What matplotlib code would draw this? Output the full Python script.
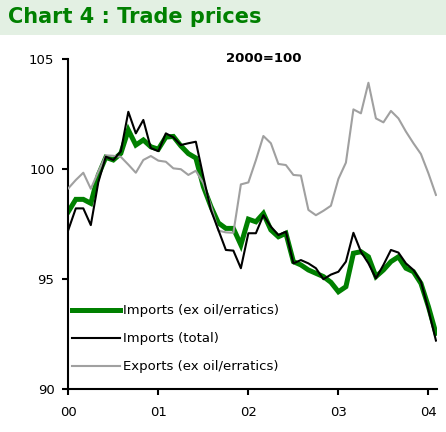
import matplotlib
matplotlib.use("Agg")
import matplotlib.pyplot as plt
import numpy as np

# Monthly data, Jan 2000 .. Feb 2004 (2000 = 100)
imports_ex = [98.06, 98.62, 98.62, 98.44, 99.73, 100.53, 100.41, 100.71, 101.77, 101.09,
              101.32, 101.01, 100.90, 101.45, 101.48, 101.05, 100.70, 100.50, 99.20, 98.30,
              97.55, 97.30, 97.30, 96.55, 97.72, 97.60, 97.98, 97.23, 96.92, 97.08,
              95.79, 95.64, 95.41, 95.26, 95.11, 94.85, 94.42, 94.65, 96.17, 96.24,
              96.01, 95.11, 95.41, 95.79, 96.01, 95.49, 95.33, 94.80, 93.74, 92.53]
imports_total = [97.23, 98.21, 98.21, 97.45, 99.40, 100.56, 100.41, 100.80, 102.60, 101.62,
                 102.23, 100.95, 100.81, 101.62, 101.44, 101.09, 101.17, 101.24, 99.65, 98.14,
                 97.23, 96.32, 96.29, 95.49, 97.08, 97.08, 97.90, 97.38, 97.00, 97.15,
                 95.71, 95.86, 95.71, 95.49, 94.99, 95.20, 95.33, 95.79, 97.10, 96.24,
                 95.71, 95.03, 95.64, 96.32, 96.20, 95.71, 95.41, 94.88, 93.59, 92.20]
exports_ex = [99.12, 99.50, 99.83, 99.10, 99.88, 100.62, 100.60, 100.55, 100.20, 99.83,
              100.41, 100.59, 100.38, 100.33, 100.03, 99.99, 99.73, 99.92, 99.35, 98.35,
              97.20, 97.12, 97.10, 99.30, 99.39, 100.40, 101.50, 101.17, 100.23, 100.18,
              99.73, 99.70, 98.14, 97.90, 98.10, 98.33, 99.55, 100.29, 102.71, 102.53,
              103.92, 102.30, 102.12, 102.64, 102.30, 101.70, 101.17, 100.68, 99.80, 98.82]
year_labels = ["00", "01", "02", "03", "04"]
y_ticks = [90, 95, 100, 105]
series_names = ["Imports (ex oil/erratics)", "Imports (total)", "Exports (ex oil/erratics)"]

months = np.arange(len(imports_ex))

fig = plt.figure(figsize=(4.46, 4.32), dpi=100)
fig.patch.set_facecolor("white")

# Title band
band = plt.Rectangle((0, 1 - 35 / 432), 1, 35 / 432, transform=fig.transFigure,
                     facecolor="#E3F0E3", edgecolor="none", zorder=0)
fig.patches.append(band)
fig.text(8 / 446, 1 - 17 / 432, "Chart 4 : Trade prices", color="#008000",
         fontsize=15, fontweight="bold", ha="left", va="center", family="DejaVu Sans")

ax = fig.add_axes([68.3 / 446, 1 - 389 / 432, (436.7 - 68.3) / 446, (389 - 59) / 432])
ax.set_facecolor("white")

l1, = ax.plot(months, imports_ex, color="#008000", lw=3.6, zorder=2, solid_joinstyle="miter")
l3, = ax.plot(months, exports_ex, color="#A0A0A0", lw=1.5, zorder=3)
l2, = ax.plot(months, imports_total, color="black", lw=1.5, zorder=4)

ax.set_xlim(0, 49.1)
ax.set_ylim(90, 105)
ax.set_yticks(y_ticks)
ax.set_yticklabels([str(v) for v in y_ticks])
ax.set_xticks([0, 12, 24, 36, 48])
ax.set_xticklabels(year_labels)
for s in ["top", "right"]:
    ax.spines[s].set_visible(False)
for s in ["left", "bottom"]:
    ax.spines[s].set_linewidth(1.5)
ax.tick_params(axis="both", direction="out", length=4, width=1.5, labelsize=9.5, pad=6)
ax.tick_params(axis="x", pad=8)

ax.text(0.53, 1.0, "2000=100", transform=ax.transAxes, ha="center", va="center",
        fontsize=9.5, fontweight="bold")

ax.legend([l1, l2, l3], series_names, loc="lower left", bbox_to_anchor=(-0.014, 0.019),
          frameon=False, fontsize=9.5, handlelength=3.6, handletextpad=0.2,
          labelspacing=1.15, borderaxespad=0.3)

fig.savefig("out.png", dpi=100, facecolor="white")
